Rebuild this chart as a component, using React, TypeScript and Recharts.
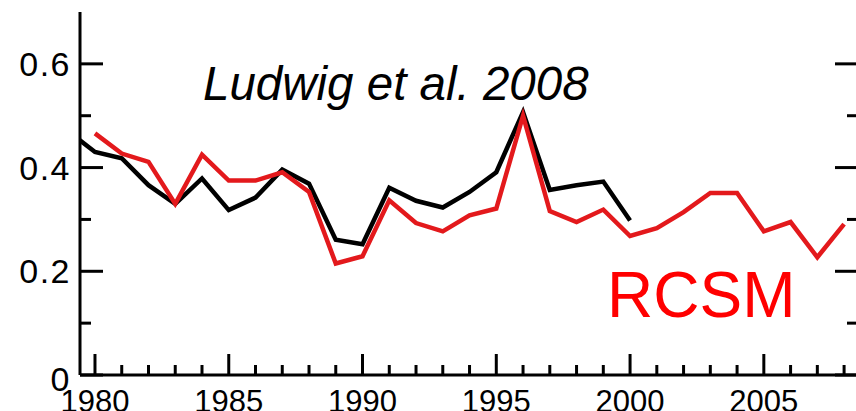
import { LineChart, Line, XAxis, YAxis } from "recharts";

const years = [1979, 1980, 1981, 1982, 1983, 1984, 1985, 1986, 1987, 1988, 1989, 1990, 1991, 1992, 1993, 1994, 1995, 1996, 1997, 1998, 1999, 2000, 2001, 2002, 2003, 2004, 2005, 2006, 2007, 2008];
const ludwig = [0.47, 0.43, 0.418, 0.366, 0.33, 0.379, 0.318, 0.342, 0.396, 0.369, 0.261, 0.252, 0.361, 0.336, 0.323, 0.353, 0.391, 0.507, 0.357, 0.366, 0.373, 0.298, null, null, null, null, null, null, null, null];
const rcsm = [null, 0.466, 0.427, 0.411, 0.33, 0.425, 0.375, 0.375, 0.391, 0.353, 0.215, 0.229, 0.337, 0.293, 0.277, 0.308, 0.321, 0.5, 0.316, 0.295, 0.319, 0.268, 0.283, 0.314, 0.351, 0.351, 0.277, 0.295, 0.227, 0.291];
const xTicks = years.slice(1);
const yTicks = [0, 0.1, 0.2, 0.3, 0.4, 0.5, 0.6];

const data = years.map((year, i) => ({ year, ludwig: ludwig[i], rcsm: rcsm[i] }));

const font = "'Liberation Sans', Arial, sans-serif";
const RED = "#e3191c";

const BottomTick = ({ x, y, payload }: any) => {
  const major = payload.value % 5 === 0;
  return (
    <g>
      <line x1={x} x2={x} y1={y} y2={y - (major ? 21 : 10)} stroke="#000" strokeWidth={3} />
      {major && (
        <text x={x} y={y + 37} textAnchor="middle" fontFamily={font} fontSize={31} fill="#000">
          {payload.value}
        </text>
      )}
    </g>
  );
};

const TopTick = ({ x, y, payload }: any) => {
  const major = payload.value % 5 === 0;
  return <line x1={x} x2={x} y1={y} y2={y + (major ? 21 : 11)} stroke="#000" strokeWidth={3} />;
};

const LeftTick = ({ x, y, payload }: any) => {
  const major = Math.round(payload.value * 10) % 2 === 0;
  const v = payload.value;
  return (
    <g>
      <line x1={x} x2={x + (major ? 23 : 11)} y1={y} y2={y} stroke="#000" strokeWidth={3} />
      {major && (
        <text x={x - 9} y={y + 12 + (v === 0 ? 4 : 0)} textAnchor="end" fontFamily={font} fontSize={34} letterSpacing={1.5} fill="#000">
          {v === 0 ? "0" : v.toFixed(1)}
        </text>
      )}
    </g>
  );
};

const RightTick = ({ x, y, payload }: any) => {
  const major = Math.round(payload.value * 10) % 2 === 0;
  return <line x1={x} x2={x - (major ? 23 : 11)} y1={y} y2={y} stroke="#000" strokeWidth={3} />;
};

export default function App() {
  return (
    <div style={{ position: "absolute", left: 0, top: 0, width: 856, height: 411, overflow: "hidden", background: "#fff" }}>
      <LineChart width={870} height={411} data={data} margin={{ top: 12, right: 0, bottom: 0, left: 0 }}>
        <XAxis
          dataKey="year"
          type="number"
          domain={[1979.44, 2008.52]}
          allowDataOverflow
          ticks={xTicks}
          interval={0}
          tickSize={0}
          tickMargin={0}
          tick={<BottomTick />}
          height={36}
          axisLine={{ stroke: "#000", strokeWidth: 3 }}
        />
        <XAxis
          xAxisId="top"
          dataKey="year"
          orientation="top"
          type="number"
          domain={[1979.44, 2008.52]}
          allowDataOverflow
          ticks={xTicks}
          interval={0}
          tickSize={0}
          tickMargin={0}
          tick={<TopTick />}
          height={0}
          axisLine={{ stroke: "#000", strokeWidth: 3 }}
        />
        <YAxis
          type="number"
          domain={[0, 0.7]}
          allowDataOverflow
          ticks={yTicks}
          interval={0}
          tickSize={0}
          tickMargin={0}
          tick={<LeftTick />}
          width={80}
          axisLine={{ stroke: "#000", strokeWidth: 3 }}
        />
        <YAxis
          yAxisId="right"
          orientation="right"
          type="number"
          domain={[0, 0.7]}
          allowDataOverflow
          ticks={yTicks}
          interval={0}
          tickSize={0}
          tickMargin={0}
          tick={<RightTick />}
          width={12}
          axisLine={{ stroke: "#000", strokeWidth: 3 }}
        />
        <Line type="linear" dataKey="ludwig" stroke="#000" strokeWidth={4.5} dot={false} isAnimationActive={false} />
        <Line type="linear" dataKey="rcsm" stroke={RED} strokeWidth={4.5} dot={false} isAnimationActive={false} />
      </LineChart>
      <svg width={856} height={411} style={{ position: "absolute", left: 0, top: 0, pointerEvents: "none" }}>
        <text x={203} y={100} fontFamily={font} fontStyle="italic" fontSize={47.5} fill="#000">
          Ludwig et al. 2008
        </text>
        <text x={607} y={317} fontFamily={font} fontSize={64} fill="#ff0000">
          RCSM
        </text>
      </svg>
    </div>
  );
}
